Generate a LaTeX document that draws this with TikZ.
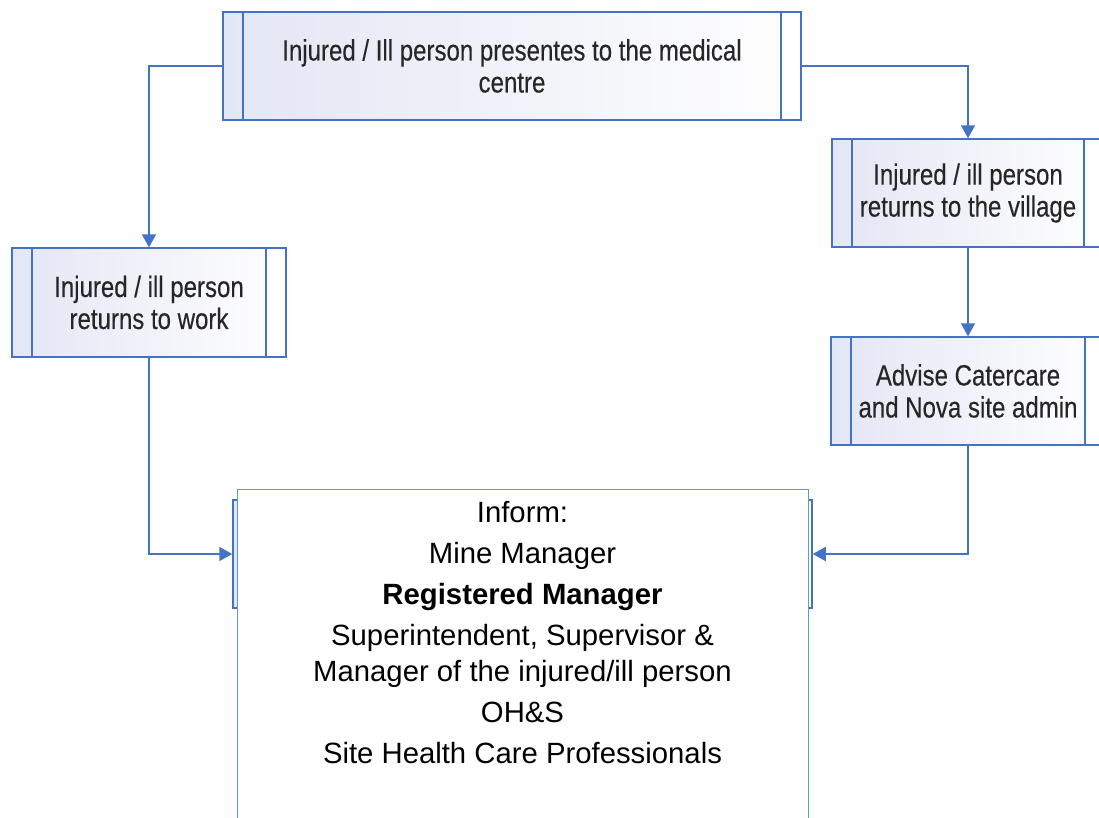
\documentclass[tikz,border=0pt]{standalone}
\usepackage{fontspec}
\setmainfont{Liberation Sans}
\newfontfamily\narrowfont[FakeStretch=0.82,FakeBold=0.3]{Liberation Sans}
\usetikzlibrary{arrows.meta,calc}
\definecolor{lineblue}{HTML}{4472C4}
\definecolor{frameblue}{HTML}{5B9BD5}
\definecolor{boxfill}{HTML}{E3E6F4}
\definecolor{txt}{HTML}{262626}
\begin{document}
\begin{tikzpicture}[x=1pt,y=-1pt,
  proc/.style={draw=lineblue, line width=1.5pt, shading=axis, left color=boxfill, right color=white,
    inner sep=0pt, align=center, text=txt,
    font=\narrowfont\fontsize{29.3}{32}\selectfont,
    path picture={\draw[lineblue,line width=1.5pt]
      ([xshift=20pt]path picture bounding box.north west) -- ([xshift=20pt]path picture bounding box.south west)
      ([xshift=-20pt]path picture bounding box.north east) -- ([xshift=-20pt]path picture bounding box.south east);}},
  conn/.style={draw=lineblue, line width=1.9pt, -{Triangle[width=14pt,length=13pt]}},
  informbox/.style={draw=frameblue, line width=1pt, fill=white},
  informtext/.style={align=center, inner sep=0pt, font=\fontsize{29.3}{36}\selectfont, text=black}
]
\clip (0,0) rectangle (1099,817);
\fill[white] (0,0) rectangle (1099,817);

\node[proc, minimum width=578pt, minimum height=108pt] (med) at (512,66)
  {Injured / Ill person presentes to the medical\\centre};
\node[proc, minimum width=274pt, minimum height=109pt] (work) at (149,302.5)
  {Injured / ill person\\returns to work};
\node[proc, minimum width=272pt, minimum height=108pt] (village) at (968,193)
  {Injured / ill person\\returns to the village};
\node[proc, minimum width=274pt, minimum height=108pt] (cater) at (968,391)
  {Advise Catercare\\and Nova site admin};
\node[proc, minimum width=579pt, minimum height=108pt] (informbg) at (522.5,554) {};

\draw[conn] (med.west) -| (work.north);
\draw[conn] (med.east) -| (village.north);
\draw[conn] (village.south) -- (cater.north);
\draw[conn] (cater.south) |- (informbg.east);
\draw[conn] (work.south) |- (informbg.west);

\node[informbox, minimum width=571pt, minimum height=341pt] (inform) at (522.5,659.5) {};
\node[informtext, anchor=north] (informtxt) at (522.5,501)
  {Inform:\\[5pt]
   Mine Manager\\[5pt]
   \textbf{Registered Manager}\\[5pt]
   Superintendent, Supervisor \&\\
   Manager of the injured/ill person\\[5pt]
   OH\&S\\[5pt]
   Site Health Care Professionals};
\end{tikzpicture}
\end{document}
